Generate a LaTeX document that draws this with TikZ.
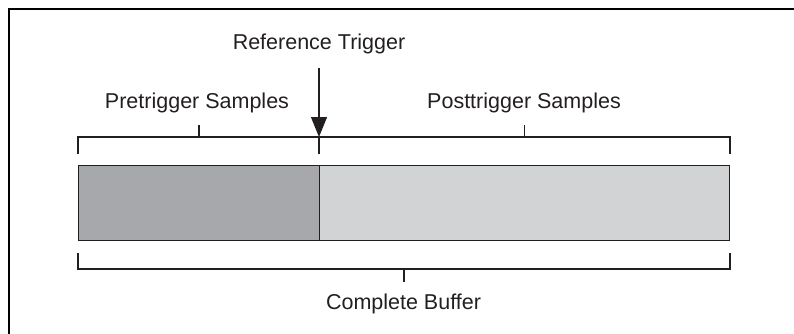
\documentclass[tikz,border=0pt]{standalone}
\usepackage{fontspec}
\setmainfont{Liberation Sans}
\usetikzlibrary{arrows.meta,calc}
\definecolor{inkgray}{RGB}{35,31,32}
\definecolor{pregray}{RGB}{167,168,172}
\definecolor{postgray}{RGB}{210,211,213}

\begin{document}
\begin{tikzpicture}[x=1pt, y=-1pt,
  seg/.style={draw=inkgray, line width=1pt, minimum height=75pt, inner sep=0pt, anchor=north west},
  lbl/.style={font=\fontsize{21.5}{25}\selectfont, text=inkgray, anchor=base, inner sep=0pt},
  brk/.style={draw=inkgray, line width=1.2pt}]
  \useasboundingbox (0,0) rectangle (794,334);
  \draw[line width=2.5pt] (9,335) -- (9,9) -- (794,9);
  % the buffer
  \node[seg, fill=pregray, minimum width=241pt] (pre) at (78,165) {};
  \node[seg, fill=postgray, minimum width=410pt] (post) at (319,165) {};
  % labels
  \node[lbl] (trig) at (319,50) {Reference Trigger};
  \node[lbl] (prelbl) at (197,109) {Pretrigger Samples};
  \node[lbl] (postlbl) at (524,109) {Posttrigger Samples};
  \node[lbl] (buflbl) at (403.5,309) {Complete Buffer};
  \coordinate (trighead) at ([yshift=28pt]post.north west);
  % brackets
  \draw[brk] ([yshift=11pt]pre.north west) -- ([yshift=28pt]pre.north west)
    -- ([yshift=28pt]post.north east) -- ([yshift=11pt]post.north east);
  \draw[brk] ([yshift=28pt]pre.north) -- ++(0,-12);
  \draw[brk] ([yshift=28pt]post.north) -- ++(0,-12);
  \draw[brk, line width=2pt] (post.north west) ++(0,-11) -- (trighead);
  \draw[brk] ([yshift=-12pt]pre.south west) -- ([yshift=-28pt]pre.south west)
    -- ([yshift=-28pt]post.south east) -- ([yshift=-12pt]post.south east);
  \draw[brk] ([yshift=-28pt]$(pre.south west)!0.5!(post.south east)$) -- ++(0,13);
  % trigger arrow
  \draw[brk, -{Triangle[width=16pt, length=20pt]}] (trig.south) ++(0,13) -- (trighead);
\end{tikzpicture}
\end{document}
